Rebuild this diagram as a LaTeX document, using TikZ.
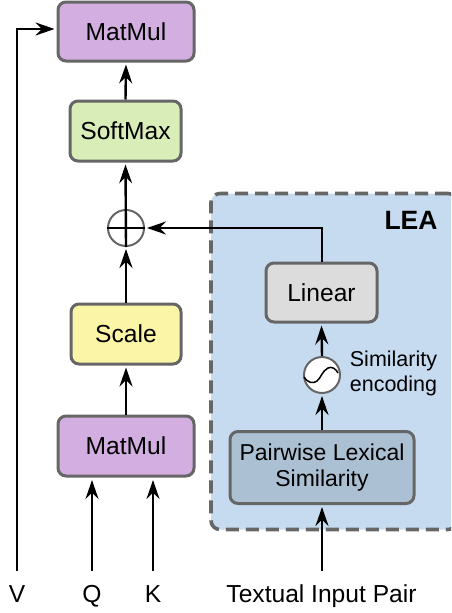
\documentclass[tikz,border=0pt]{standalone}
\usepackage{fontspec}
\setmainfont{Liberation Sans}
\usetikzlibrary{arrows.meta,positioning}
\definecolor{edgegray}{HTML}{666666}
\definecolor{purplefill}{HTML}{D2AFE0}
\definecolor{greenfill}{HTML}{D8EDB8}
\definecolor{yellowfill}{HTML}{FBF5A8}
\definecolor{bluefill}{HTML}{C6DBEF}
\definecolor{grayfill}{HTML}{DCDCDC}
\definecolor{steelfill}{HTML}{ABC1D3}
\tikzset{
  x=1pt,y=-1pt,
  box/.style={draw=edgegray,line width=3pt,rounded corners=8pt,inner sep=0pt,align=center,font=\fontsize{24.6}{26}\selectfont},
  lab/.style={inner sep=0pt,anchor=base,font=\fontsize{24.6}{26}\selectfont},
  conn/.style={draw=black,line width=2.4pt,-{Stealth[length=19pt,width=13pt,inset=6.5pt]},shorten >=2pt},
  plain/.style={draw=black,line width=2.4pt},
  ring/.style={circle,draw=edgegray,line width=2pt,minimum size=36pt,inner sep=0pt}
}
\begin{document}
\begin{tikzpicture}
\useasboundingbox (0,0) rectangle (451,613);
\begin{scope}
\clip (0,0) rectangle (451,613);
\node[draw=edgegray,fill=bluefill,line width=3.6pt,dash pattern=on 13pt off 7pt,rounded corners=9pt,minimum width=246pt,minimum height=336pt,inner sep=0pt] (lea) at (334,361.5) {};
\end{scope}
\node[font=\fontsize{26.5}{28}\selectfont\bfseries,inner sep=0pt] (leat) at (411,220) {LEA};
\node[box,fill=purplefill,minimum width=136pt,minimum height=59pt] (mm1) at (126,31.5) {MatMul};
\node[box,fill=greenfill,minimum width=111pt,minimum height=60pt] (sm) at (125.5,131) {SoftMax};
\node[box,fill=yellowfill,minimum width=110pt,minimum height=60pt] (sc) at (126,334) {Scale};
\node[box,fill=purplefill,minimum width=136pt,minimum height=60pt] (mm2) at (126,446) {MatMul};
\node[box,fill=grayfill,minimum width=111pt,minimum height=59pt] (li) at (321.5,292.5) {Linear};
\node[box,fill=steelfill,minimum width=184pt,minimum height=72pt,font=\fontsize{23}{26}\selectfont] (pw) at (322,467.5) {Pairwise Lexical\\Similarity};
\node[ring] (plus) at (126,228) {};
\node[ring,fill=white] (enc) at (322,375) {};
\node[inner sep=0pt,align=center,font=\fontsize{21.5}{25}\selectfont] (enct) at (393.5,373.5) {Similarity\\encoding};
\node[lab] (v) at (17,602) {V};
\node[lab] (q) at (92,602) {Q};
\node[lab] (k) at (153,602) {K};
\node[lab] (t) at (321.5,602) {Textual Input Pair};
\coordinate (vs) at (17,571);
\coordinate (qs) at (92,571);
\coordinate (ks) at (153,571);
\coordinate (ts) at (322,571);
\coordinate (vb) at (17,29);
\draw[conn] (vs) -- (vb) -- (mm1.west |- vb);
\draw[conn] (qs) -- (92,478);
\draw[conn] (ks) -- (153,478);
\draw[conn] (mm2.north) -- (sc.south);
\draw[conn] (sc.north) -- (plus.south);
\draw[conn] (plus.south) -- (sm.south);
\draw[plain,line width=1.6pt] (plus.west) -- (plus.east);
\draw[conn] (sm.north) -- (mm1.south);
\draw[conn] (ts) -- (pw.south);
\draw[conn] (pw.north) -- (enc.south);
\draw[conn] (enc.north) -- (li.south);
\draw[conn] (li.north -| ts) -- (322,228) -- (plus.east);
\begin{scope}[shift={(enc.center)}]
\draw[line width=1.5pt,black] (-18,2) .. controls (-14,8) and (-9,9) .. (-5,6) .. controls (-1,3) and (0,-4) .. (6,-7) .. controls (10,-9) and (14,-6) .. (16,-2);
\end{scope}
\end{tikzpicture}
\end{document}
